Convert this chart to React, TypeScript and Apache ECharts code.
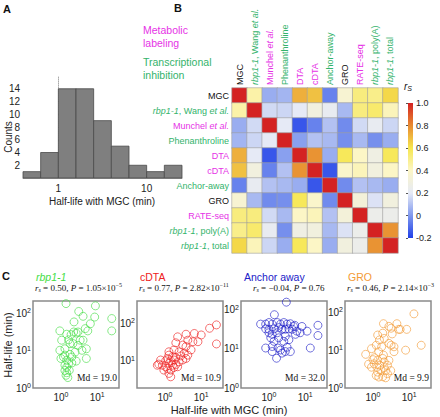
import React, { useEffect, useRef } from 'react';
import * as echarts from 'echarts';

const SANS = '"Liberation Sans", Arial, Helvetica, sans-serif';
const SERIF = '"Liberation Serif", "Times New Roman", serif';

// ---------- Panel A: histogram (bin edges in log10 minutes) ----------
const histBinEdgesLog = [-0.4, -0.2, 0, 0.2, 0.4, 0.6, 0.8, 1.0, 1.2, 1.4];
const histCounts = [1, 4, 14, 14, 9, 5, 2, 1, 2];
const histYTicks = [2, 4, 6, 8, 10, 12, 14];
const histXLabelMinutes = [1, 10];
const histXMinorMinutes = [0.4, 0.5, 0.6, 0.7, 0.8, 0.9, 1, 2, 3, 4, 5, 6, 7, 8, 9, 10, 20];

// ---------- Panel B: correlation matrix ----------
const matrixLabels = [
  'MGC', 'rbp1-1, Wang et al.', 'Munchel et al.', 'Phenanthroline', 'DTA', 'cDTA',
  'Anchor-away', 'GRO', 'RATE-seq', 'rbp1-1, poly(A)', 'rbp1-1, total',
];
const labelGroups = ['k', 'g', 'm', 'g', 'm', 'm', 'g', 'k', 'm', 'g', 'g'];
const corrRowMGC = [1, 0.45, 0.05, 0.07, 0.72, 0.68, -0.05, 0.35, 0.52, 0.5, 0.63];
const corrRowWang = [0.45, 1, 0.16, 0.15, 0.2, 0.3, 0.22, 0.08, 0.52, 0.55, 0.42];
const corrRowMunchel = [0.05, 0.16, 1, 0.2, -0.15, -0.05, 0.1, -0.03, 0.16, 0.22, 0.15];
const corrRowPhen = [0.07, 0.15, 0.2, 1, 0.02, 0.1, 0.08, -0.02, 0.08, -0.02, 0.05];
const corrRowDTA = [0.72, 0.2, -0.15, 0.02, 1, 0.78, 0.05, 0.58, 0.4, 0.28, 0.58];
const corrRowCDTA = [0.68, 0.3, -0.05, 0.1, 0.78, 1, -0.15, 0.38, 0.42, 0.3, 0.4];
const corrRowAnchor = [-0.05, 0.22, 0.1, 0.08, 0.05, -0.15, 1, -0.03, 0.1, 0.08, 0.05];
const corrRowGRO = [0.35, 0.08, -0.03, -0.02, 0.58, 0.38, -0.03, 1, 0.32, 0.18, 0.3];
const corrRowRATE = [0.52, 0.52, 0.16, 0.08, 0.4, 0.42, 0.1, 0.32, 1, 0.25, 0.25];
const corrRowPolyA = [0.5, 0.55, 0.22, -0.02, 0.28, 0.3, 0.08, 0.18, 0.25, 1, 0.78];
const corrRowTotal = [0.63, 0.42, 0.15, 0.05, 0.58, 0.4, 0.05, 0.3, 0.25, 0.78, 1];
const corrMatrix = [
  corrRowMGC, corrRowWang, corrRowMunchel, corrRowPhen, corrRowDTA, corrRowCDTA,
  corrRowAnchor, corrRowGRO, corrRowRATE, corrRowPolyA, corrRowTotal,
];
const colormap = ['#2040e8', '#7f98ee', '#e6eaf6', '#fcf6c6', '#f6e64e', '#e88a30', '#d42222'];

// ---------- Panel C: scatter (log10 minutes) ----------
const rbpX = [0.14, 0.95, 0.49, 0.61, 0.36, 0.93, 1.40, 0.81, 1.40, -0.03, 0.74, 0.67, 0.16, 0.28, 0.42, 0.35, 0.47, 0.02, 0.21, 0.53, 0.61, 0.25, 0.33, -0.03, 0.11, 0.58, 0.70, 0.25, 0.39, 0.07, 0.16, 0.30, 0.70, 0.0, 0.11, 0.47, 0.16, 0.21, 0.11, 0.16, 0.23, 0.14, 0.19, 0.11, 0.30, 0.42];
const rbpY = [2.26, 2.20, 2.05, 1.92, 1.77, 1.90, 1.86, 1.72, 1.53, 1.53, 1.53, 1.59, 1.44, 1.43, 1.47, 1.50, 1.50, 1.28, 1.29, 1.28, 1.28, 1.19, 1.19, 1.01, 1.05, 1.01, 1.05, 0.90, 0.96, 0.83, 0.74, 0.83, 0.79, 0.79, 0.88, 1.14, 0.56, 0.65, 0.47, 0.41, 0.47, 0.34, 0.28, 0.61, 0.67, 0.72];
const cdtaX = [1.42, 1.23, 1.42, 1.0, 0.81, 0.58, 0.35, 0.63, 0.77, 0.91, 0.30, 0.49, 0.58, 0.72, 0.25, 0.11, 0.39, 0.53, 0.63, 0.44, 0.11, 0.21, 0.30, 0.07, -0.12, 0.02, 0.16, 0.25, 0.39, 0.49, 0.58, -0.07, 0.02, 0.11, 0.21, 0.30, -0.21, -0.03, 0.07, 0.16, 0.25, 0.11, 0.16, -0.17, 0.35];
const cdtaY = [1.96, 1.87, 1.45, 1.69, 1.73, 1.71, 1.64, 1.55, 1.51, 1.51, 1.48, 1.42, 1.38, 1.29, 1.29, 1.24, 1.24, 1.20, 1.15, 1.13, 1.15, 1.11, 1.09, 1.06, 1.02, 1.0, 1.0, 1.02, 0.97, 1.02, 1.06, 0.88, 0.84, 0.93, 0.88, 0.90, 0.88, 0.75, 0.79, 0.75, 0.82, 0.66, 0.57, 0.91, 0.84];
const anchorX = [0.48, 0.15, -0.23, -0.09, 0.0, 0.09, 0.23, 0.32, 0.41, 0.50, 0.59, 0.71, 0.91, 1.35, 0.0, 0.14, 0.27, 0.36, 0.45, 0.55, 0.64, 0.77, 0.86, 0.23, 0.09, 0.73, 1.35, 0.05, 0.27, 0.45, 0.14, 0.41, 0.55, -0.09, 0.09, 0.25, 0.50, 0.32, 0.45, 1.14, 0.09, 0.59, 0.21, 0.36, 0.0, -0.09, 0.68, 1.05];
const anchorY = [2.19, 1.87, 1.63, 1.63, 1.67, 1.63, 1.67, 1.63, 1.67, 1.63, 1.64, 1.60, 1.57, 1.60, 1.50, 1.51, 1.54, 1.50, 1.50, 1.51, 1.50, 1.45, 1.41, 1.41, 1.37, 1.37, 1.34, 1.28, 1.28, 1.32, 1.19, 1.19, 1.23, 1.02, 1.06, 1.02, 1.04, 0.97, 0.93, 1.02, 0.93, 0.93, 0.76, 0.89, 1.41, 1.51, 1.57, 1.45];
const groX = [1.13, 0.29, 0.44, 0.50, 0.66, 0.75, 0.93, 0.53, 0.27, 0.13, 0.18, 0.31, 0.44, 0.50, 0.58, 0.90, 1.33, -0.04, 0.09, 0.24, 0.16, -0.20, 0.0, 0.03, 0.13, 0.27, 0.31, 0.19, 0.11, 0.22, 0.31, 0.35, 0.40, 0.44, 0.49, 0.13, 0.09, 0.27, 0.35, 0.40, 0.04, -0.04, -0.12, 0.29, 0.58, 0.71, 0.16];
const groY = [1.96, 1.70, 1.63, 1.58, 1.70, 1.55, 1.55, 1.43, 1.45, 1.40, 1.27, 1.31, 1.18, 1.13, 1.09, 1.0, 1.13, 1.04, 1.13, 1.09, 0.96, 0.89, 0.75, 0.64, 0.73, 0.78, 0.69, 0.60, 0.55, 0.46, 0.54, 0.46, 0.60, 0.73, 0.46, 0.42, 0.33, 0.30, 0.27, 0.38, 0.80, 0.55, 0.63, 0.87, 0.96, 1.55, 0.29];

const scatterTitles = ['rbp1-1', 'cDTA', 'Anchor away', 'GRO'];
const scatterRs = ['0.50', '0.77', '\u22120.04', '0.46'];
const scatterPMantissa = ['1.05', '2.82', '0.76', '2.14'];
const scatterPExponent = ['\u22125', '\u221211', '', '\u22123'];
const scatterMedians = ['19.0', '10.9', '32.0', '9.9'];
const scatterYRanges = [[0, 2.33], [0.27, 2.6], [0, 2.22], [0, 2.3]];
const scatterAxisTicks = [0, 1, 2];

const GREEN = '#33b36b';
const MAGENTA = '#e632e6';
const scatterColors = ['#44dd44', '#ee2020', '#2020c8', '#f39a35'];

function richName(name: string, g: string) {
  return name
    .split(/(rbp1-1|et al\.)/)
    .filter((s) => s.length > 0)
    .map((s) => (s === 'rbp1-1' || s === 'et al.' ? `{${g}i|${s}}` : `{${g}|${s}}`))
    .join('');
}

const labelRich: any = {};
[['k', '#111'], ['g', GREEN], ['m', MAGENTA]].forEach(([k, c]) => {
  labelRich[k] = { fill: c, fontSize: 9, fontFamily: SANS, fontWeight: 'normal' };
  labelRich[k + 'i'] = { fill: c, fontSize: 9, fontFamily: SANS, fontStyle: 'italic', fontWeight: 'normal' };
});

const powRich = {
  b: { fontSize: 10, fontFamily: SANS, color: '#222', lineHeight: 12 },
  s: { fontSize: 7, fontFamily: SANS, color: '#222', lineHeight: 7, verticalAlign: 'top' },
};

export default function App() {
  const ref = useRef<HTMLDivElement>(null);
  useEffect(() => {
    if (!ref.current) return;
    const chart = echarts.init(ref.current, null, { renderer: 'svg' });

    const histData = histCounts.map((c, i) => [histBinEdgesLog[i], histBinEdgesLog[i + 1], c]);
    const heatData: any[] = [];
    corrMatrix.forEach((row, r) => row.forEach((v, c) => heatData.push([c, r, v])));

    const scatterSets = [
      [rbpX, rbpY], [cdtaX, cdtaY], [anchorX, anchorY], [groX, groY],
    ];
    const scatterLefts = [33, 137, 241, 345];

    const grids: any[] = [
      { left: 23, top: 76, width: 159, height: 102 },
      { left: 232, top: 88, width: 166, height: 165 },
      ...scatterLefts.map((l) => ({
        left: l, top: 301, width: 86, height: 87, show: true,
        borderColor: '#8a8a8a', borderWidth: 1.5, backgroundColor: 'transparent',
      })),
      { left: 408, top: 103, width: 5, height: 135 },
    ];

    const xAxes: any[] = [
      {
        gridIndex: 0, type: 'value', min: -0.4, max: 1.4,
        axisLine: { show: true, lineStyle: { color: '#999', width: 1 } },
        axisTick: { show: true, inside: true, length: 2, customValues: histXMinorMinutes.map((m) => Math.log10(m)), lineStyle: { color: '#777' } },
        axisLabel: {
          customValues: histXLabelMinutes.map((m) => Math.log10(m)),
          formatter: (v: number) => String(Math.round(Math.pow(10, v))),
          fontSize: 10, fontFamily: SANS, color: '#222', margin: 5,
        },
        splitLine: { show: false },
      },
      {
        gridIndex: 1, type: 'category', position: 'top', data: matrixLabels,
        axisLine: { show: false }, axisTick: { show: false }, splitLine: { show: false },
        axisLabel: { show: false },
      },
      ...scatterLefts.map((_, k) => ({
        gridIndex: 2 + k, type: 'value', min: -0.77, max: 1.6,
        axisLine: { show: false }, axisTick: { show: false }, splitLine: { show: false },
        axisLabel: {
          customValues: [0, 1],
          formatter: (v: number) => `{b|10}{s|${Math.round(v)}}`,
          rich: powRich, margin: 3,
        },
      })),
      { gridIndex: 6, type: 'value', show: false, min: 0, max: 1 },
    ];

    const yAxes: any[] = [
      {
        gridIndex: 0, type: 'value', min: 0, max: 16,
        axisLine: { show: true, lineStyle: { color: '#aaa', width: 1, type: 'dotted' } },
        axisTick: { show: true, inside: true, length: 2, customValues: histYTicks, lineStyle: { color: '#777' } },
        axisLabel: { customValues: histYTicks, fontSize: 10, fontFamily: SANS, color: '#222', margin: 3 },
        splitLine: { show: false },
      },
      {
        gridIndex: 1, type: 'category', inverse: true, data: matrixLabels,
        axisLine: { show: false }, axisTick: { show: false }, splitLine: { show: false },
        axisLabel: { show: false },
      },
      ...scatterYRanges.map((rng, k) => ({
        gridIndex: 2 + k, type: 'value', min: rng[0], max: rng[1],
        axisLine: { show: false }, axisTick: { show: false }, splitLine: { show: false },
        axisLabel: {
          customValues: scatterAxisTicks.filter((t) => t >= rng[0] - 1e-9 && t <= rng[1]),
          formatter: (v: number) => `{b|10}{s|${Math.round(v)}}`,
          rich: powRich, margin: 2,
        },
      })),
      {
        gridIndex: 6, type: 'value', position: 'right', min: -0.2, max: 1.0, interval: 0.2,
        axisLine: { show: false },
        axisTick: { show: true, inside: true, length: 2, lineStyle: { color: '#555' } },
        splitLine: { show: false },
        axisLabel: {
          fontSize: 9, fontFamily: SANS, color: '#222', margin: 3,
          formatter: (v: number) => (Math.abs(v) < 1e-9 ? '0' : v.toFixed(1)),
        },
      },
    ];

    const series: any[] = [
      {
        type: 'custom', xAxisIndex: 0, yAxisIndex: 0, data: histData,
        encode: { x: [0, 1], y: 2 },
        renderItem: (_p: any, api: any) => {
          const p0 = api.coord([api.value(0), api.value(2)]);
          const p1 = api.coord([api.value(1), 0]);
          return {
            type: 'rect',
            shape: { x: p0[0], y: p0[1], width: p1[0] - p0[0], height: p1[1] - p0[1] },
            style: { fill: '#7f7f7f', stroke: '#4a4a4a', lineWidth: 0.8 },
          };
        },
      },
      {
        type: 'heatmap', xAxisIndex: 1, yAxisIndex: 1, data: heatData,
        itemStyle: { borderColor: '#a0a0a0', borderWidth: 0.6 },
        emphasis: { disabled: true },
      },
      ...scatterSets.map(([xs, ys], k) => ({
        type: 'scatter', xAxisIndex: 2 + k, yAxisIndex: 2 + k,
        data: xs.map((x, i) => [x, ys[i]]),
        symbol: 'circle', symbolSize: 8,
        itemStyle: { color: 'rgba(0,0,0,0)', borderColor: scatterColors[k], borderWidth: 0.8 },
      })),
      { type: 'scatter', xAxisIndex: 6, yAxisIndex: 6, data: [] },
    ];

    chart.setOption({
      animation: false,
      backgroundColor: '#fff',
      grid: grids,
      xAxis: xAxes,
      yAxis: yAxes,
      visualMap: {
        type: 'continuous', show: false, min: -0.2, max: 1.0, dimension: 2,
        seriesIndex: 1, inRange: { color: colormap },
      },
      series,
    });

    const statRich = {
      i: { fontFamily: SERIF, fontStyle: 'italic', fontSize: 9, fill: '#111', lineHeight: 11 },
      n: { fontFamily: SERIF, fontSize: 9, fill: '#111', lineHeight: 11 },
      sub: { fontFamily: SERIF, fontStyle: 'italic', fontSize: 6, fill: '#111', lineHeight: 6, verticalAlign: 'bottom' },
      sup: { fontFamily: SERIF, fontSize: 6, fill: '#111', lineHeight: 6, verticalAlign: 'top' },
    };

    const graphics: any[] = [
      { type: 'text', x: 3, y: 3, style: { text: 'A', font: `bold 11px ${SANS}`, fill: '#111' } },
      { type: 'text', x: 174, y: 2, style: { text: 'B', font: `bold 11px ${SANS}`, fill: '#111' } },
      { type: 'text', x: 2, y: 270, style: { text: 'C', font: `bold 11px ${SANS}`, fill: '#111' } },
      { type: 'text', x: 8, y: 137, rotation: Math.PI / 2, style: { text: 'Counts', font: `10px ${SANS}`, fill: '#222', align: 'center', verticalAlign: 'middle' } },
      { type: 'text', x: 102, y: 201, style: { text: 'Half-life with MGC (min)', font: `10px ${SANS}`, fill: '#222', align: 'center', verticalAlign: 'middle' } },
      { type: 'text', x: 143, y: 30, style: { text: 'Metabolic', font: `10.5px ${SANS}`, fill: MAGENTA, verticalAlign: 'middle' } },
      { type: 'text', x: 143, y: 43, style: { text: 'labeling', font: `10.5px ${SANS}`, fill: MAGENTA, verticalAlign: 'middle' } },
      { type: 'text', x: 143, y: 62, style: { text: 'Transcriptional', font: `10.5px ${SANS}`, fill: GREEN, verticalAlign: 'middle' } },
      { type: 'text', x: 143, y: 75, style: { text: 'inhibition', font: `10.5px ${SANS}`, fill: GREEN, verticalAlign: 'middle' } },
      {
        type: 'text', x: 404, y: 80,
        style: {
          text: '{i|r}{sub|S}',
          rich: {
            i: { fontFamily: SANS, fontStyle: 'italic', fontSize: 10, fill: '#111', lineHeight: 12 },
            sub: { fontFamily: SANS, fontStyle: 'italic', fontSize: 7, fill: '#111', lineHeight: 7, verticalAlign: 'bottom' },
          },
        },
      },
      {
        type: 'rect', shape: { x: 408, y: 103, width: 5, height: 135 },
        style: {
          fill: new echarts.graphic.LinearGradient(0, 0, 0, 1,
            colormap.slice().reverse().map((c, i) => ({ offset: i / (colormap.length - 1), color: c }))),
        },
      },
      { type: 'text', x: 8, y: 345, rotation: Math.PI / 2, style: { text: 'Half-life (min)', font: `11px ${SANS}`, fill: '#222', align: 'center', verticalAlign: 'middle' } },
      { type: 'text', x: 229, y: 410, style: { text: 'Half-life with MGC (min)', font: `11px ${SANS}`, fill: '#222', align: 'center', verticalAlign: 'middle' } },
    ];

    // matrix labels placed through the category axes
    matrixLabels.forEach((name, c) => {
      const px = chart.convertToPixel({ xAxisIndex: 1 } as any, c as any) as any;
      graphics.push({
        type: 'text', x: px, y: 85, rotation: Math.PI / 2,
        style: {
          text: richName(name, labelGroups[c]), rich: labelRich,
          align: 'left', verticalAlign: 'middle',
        },
      });
      const py = chart.convertToPixel({ yAxisIndex: 1 } as any, c as any) as any;
      graphics.push({
        type: 'text', x: 229, y: py,
        style: {
          text: richName(name, labelGroups[c]), rich: labelRich,
          align: 'right', verticalAlign: 'middle',
        },
      });
    });

    scatterLefts.forEach((l, k) => {
      graphics.push({
        type: 'text', x: l + 3, y: 277,
        style: {
          text: scatterTitles[k],
          font: `${k === 0 ? 'italic ' : ''}10.5px ${SANS}`,
          fill: scatterColors[k], verticalAlign: 'middle',
        },
      });
      const pText = scatterPExponent[k]
        ? `{n| = ${scatterPMantissa[k]}\u00d710}{sup|${scatterPExponent[k]}}`
        : `{n| = ${scatterPMantissa[k]}}`;
      graphics.push({
        type: 'text', x: l + 2 + (k === 2 ? 10 : 0), y: 282,
        style: { text: `{i|r}{sub|s}{n| = ${scatterRs[k]}, }{i|P}${pText}`, rich: statRich },
      });
      graphics.push({
        type: 'text', x: l + 84, y: 378,
        style: { text: `Md = ${scatterMedians[k]}`, font: `9.5px ${SERIF}`, fill: '#111', align: 'right', verticalAlign: 'middle' },
      });
    });

    chart.setOption({ graphic: graphics });
    return () => chart.dispose();
  }, []);
  return <div ref={ref} style={{ position: 'fixed', left: 0, top: 0, width: 440, height: 417 }} />;
}
